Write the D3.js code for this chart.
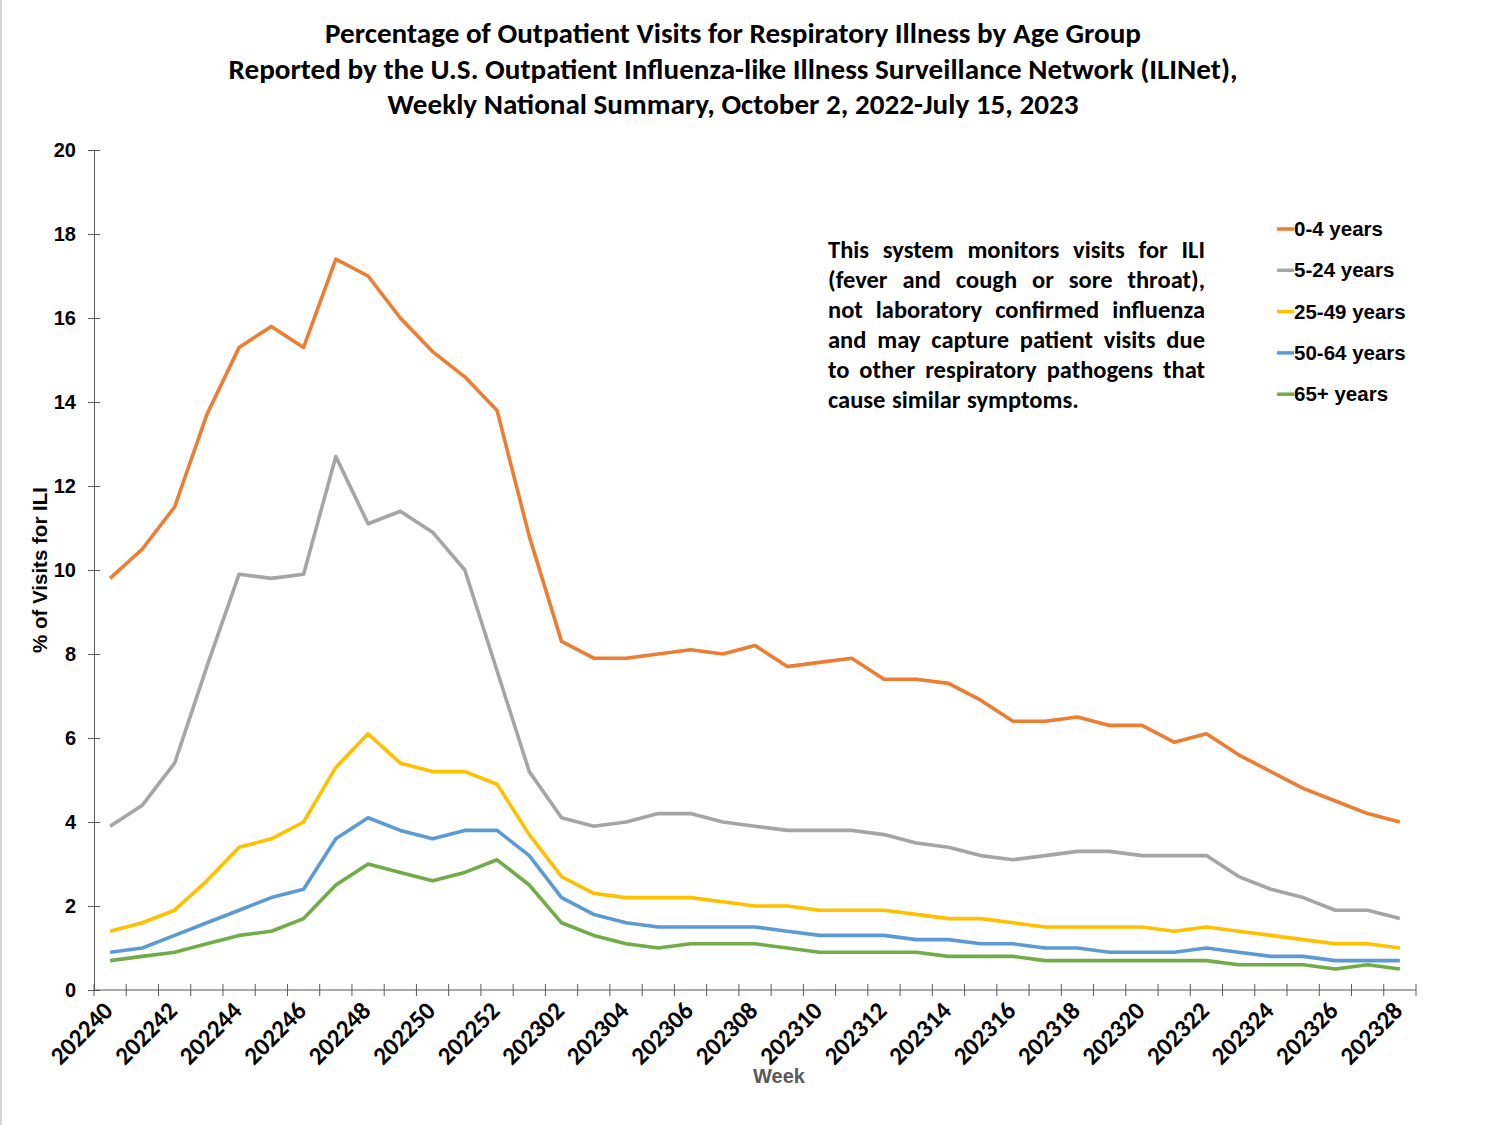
<!DOCTYPE html>
<html>
<head>
<meta charset="utf-8">
<script src="https://cdn.jsdelivr.net/npm/d3@7"></script>
<style>
  html, body { margin: 0; padding: 0; background: #fff; }
  svg { display: block; }
</style>
</head>
<body>
<div id="chart"></div>
<script>
// ILINet weekly % of visits for ILI, by age group, 2022-23 season.

const weeks = [
    "202240", "202241", "202242", "202243", "202244", "202245", "202246",
    "202247", "202248", "202249", "202250", "202251", "202252",
    "202301", "202302", "202303", "202304", "202305", "202306", "202307",
    "202308", "202309", "202310", "202311", "202312", "202313", "202314",
    "202315", "202316", "202317", "202318", "202319", "202320", "202321",
    "202322", "202323", "202324", "202325", "202326", "202327", "202328"
];

const ageGroups = ["0-4 years", "5-24 years", "25-49 years", "50-64 years", "65+ years"];

const age0to4 = [
    9.8, 10.5, 11.5, 13.7, 15.3, 15.8, 15.3, 17.4, 17.0, 16.0, 15.2, 14.6, 13.8,
    10.8, 8.3, 7.9, 7.9, 8.0, 8.1, 8.0, 8.2, 7.7, 7.8, 7.9, 7.4, 7.4, 7.3,
    6.9, 6.4, 6.4, 6.5, 6.3, 6.3, 5.9, 6.1, 5.6, 5.2, 4.8, 4.5, 4.2, 4.0
];
const age5to24 = [
    3.9, 4.4, 5.4, 7.7, 9.9, 9.8, 9.9, 12.7, 11.1, 11.4, 10.9, 10.0, 7.6,
    5.2, 4.1, 3.9, 4.0, 4.2, 4.2, 4.0, 3.9, 3.8, 3.8, 3.8, 3.7, 3.5, 3.4,
    3.2, 3.1, 3.2, 3.3, 3.3, 3.2, 3.2, 3.2, 2.7, 2.4, 2.2, 1.9, 1.9, 1.7
];
const age25to49 = [
    1.4, 1.6, 1.9, 2.6, 3.4, 3.6, 4.0, 5.3, 6.1, 5.4, 5.2, 5.2, 4.9,
    3.7, 2.7, 2.3, 2.2, 2.2, 2.2, 2.1, 2.0, 2.0, 1.9, 1.9, 1.9, 1.8, 1.7,
    1.7, 1.6, 1.5, 1.5, 1.5, 1.5, 1.4, 1.5, 1.4, 1.3, 1.2, 1.1, 1.1, 1.0
];
const age50to64 = [
    0.9, 1.0, 1.3, 1.6, 1.9, 2.2, 2.4, 3.6, 4.1, 3.8, 3.6, 3.8, 3.8,
    3.2, 2.2, 1.8, 1.6, 1.5, 1.5, 1.5, 1.5, 1.4, 1.3, 1.3, 1.3, 1.2, 1.2,
    1.1, 1.1, 1.0, 1.0, 0.9, 0.9, 0.9, 1.0, 0.9, 0.8, 0.8, 0.7, 0.7, 0.7
];
const age65plus = [
    0.7, 0.8, 0.9, 1.1, 1.3, 1.4, 1.7, 2.5, 3.0, 2.8, 2.6, 2.8, 3.1,
    2.5, 1.6, 1.3, 1.1, 1.0, 1.1, 1.1, 1.1, 1.0, 0.9, 0.9, 0.9, 0.9, 0.8,
    0.8, 0.8, 0.7, 0.7, 0.7, 0.7, 0.7, 0.7, 0.6, 0.6, 0.6, 0.5, 0.6, 0.5
];

const seriesValues = [age0to4, age5to24, age25to49, age50to64, age65plus];
const seriesColors = ["#ED7D31", "#A5A5A5", "#FFC000", "#5B9BD5", "#70AD47"];
const yTicks = [0, 2, 4, 6, 8, 10, 12, 14, 16, 18, 20];

const titleLines = [
    "Percentage of Outpatient Visits for Respiratory Illness by Age Group",
    "Reported by the U.S. Outpatient Influenza-like Illness Surveillance Network (ILINet),",
    "Weekly National Summary, October 2, 2022-July 15, 2023"
];
const noteLines = [
    "This system monitors visits for ILI",
    "(fever and cough or sore throat),",
    "not laboratory confirmed influenza",
    "and may capture patient visits due",
    "to other respiratory pathogens that",
    "cause similar symptoms."
];

const W = 1500, H = 1125;
const plot = { left: 94, right: 1416, top: 150, bottom: 990 };
const CAL = "Carlito, Lato, 'Open Sans', sans-serif";
const ARIAL = "'Liberation Sans', Arial, sans-serif";
const AXIS = "#595959";

const svg = d3.select("#chart").append("svg")
    .attr("width", W).attr("height", H)
    .attr("viewBox", `0 0 ${W} ${H}`);

svg.append("rect").attr("width", W).attr("height", H).attr("fill", "#fff");
svg.append("line")
    .attr("x1", 1).attr("x2", 1).attr("y1", 0).attr("y2", H)
    .attr("stroke", "#d3dad3").attr("stroke-width", 2);

// scales — band scale so points sit mid-band and ticks fall on band edges
const x = d3.scaleBand().domain(weeks).range([plot.left, plot.right]);
const y = d3.scaleLinear().domain([0, 20]).range([plot.bottom, plot.top]);
const cx = d => x(d) + x.bandwidth() / 2;

// title — widths taken from the reference so the lines wrap the same way
const titleWidths = [816, 1009, 691];
svg.append("g").selectAll("text").data(titleLines).join("text")
    .attr("x", 733).attr("y", (d, i) => 43 + i * 35.5)
    .attr("text-anchor", "middle")
    .attr("textLength", (d, i) => titleWidths[i])
    .attr("lengthAdjust", "spacingAndGlyphs")
    .style("font-family", CAL).style("font-weight", "bold")
    .style("font-size", "28.5px").style("fill", "#000")
    .text(d => d);

// y axis
const yAxis = svg.append("g")
    .attr("transform", `translate(${plot.left},0)`)
    .call(d3.axisLeft(y).tickValues(yTicks).tickSizeInner(6).tickSizeOuter(0).tickPadding(12));
yAxis.select(".domain").attr("stroke", AXIS);
yAxis.selectAll(".tick line").attr("stroke", AXIS).attr("x2", 6).attr("x1", -6);
yAxis.selectAll(".tick text")
    .style("font-family", ARIAL).style("font-weight", "bold")
    .style("font-size", "20px").style("fill", "#000");

// x axis: ticks on band boundaries, labels on every other week
const xg = svg.append("g").attr("transform", `translate(0,${plot.bottom})`);
xg.append("line")
    .attr("x1", plot.left).attr("x2", plot.right)
    .attr("stroke", AXIS).attr("stroke-width", 1.2);
const edges = weeks.map(d => x(d)).concat([plot.right]);
xg.selectAll("line.tk").data(edges).join("line")
    .attr("class", "tk")
    .attr("x1", d => d).attr("x2", d => d)
    .attr("y1", -6).attr("y2", 6)
    .attr("stroke", AXIS);
xg.selectAll("text").data(weeks.filter((d, i) => i % 2 === 0)).join("text")
    .attr("transform", d => `translate(${cx(d) - 2},${16}) rotate(-45)`)
    .attr("text-anchor", "end")
    .attr("dy", "0.35em")
    .style("font-family", CAL).style("font-weight", "bold")
    .style("font-size", "25px").style("fill", "#000")
    .text(d => d);

// axis titles
svg.append("text")
    .attr("transform", `translate(47,570) rotate(-90)`)
    .attr("text-anchor", "middle")
    .style("font-family", ARIAL).style("font-weight", "bold")
    .style("font-size", "20.5px").style("fill", "#000")
    .text("% of Visits for ILI");
svg.append("text")
    .attr("x", 779).attr("y", 1083)
    .attr("text-anchor", "middle")
    .style("font-family", ARIAL).style("font-weight", "bold")
    .style("font-size", "20px").style("fill", AXIS)
    .text("Week");

// series lines
const line = d3.line().x((d, i) => cx(weeks[i])).y(d => y(d));
svg.append("g").selectAll("path").data(seriesValues).join("path")
    .attr("d", d => line(d))
    .attr("fill", "none")
    .attr("stroke", (d, i) => seriesColors[i])
    .attr("stroke-width", 3.6)
    .attr("stroke-linejoin", "round");

// legend
const leg = svg.append("g").selectAll("g").data(ageGroups).join("g")
    .attr("transform", (d, i) => `translate(1277,${229 + i * 41.3})`);
leg.append("line")
    .attr("x1", 0).attr("x2", 17)
    .attr("stroke", (d, i) => seriesColors[i]).attr("stroke-width", 3.5);
leg.append("text")
    .attr("x", 17).attr("dy", "0.35em")
    .style("font-family", ARIAL).style("font-weight", "bold")
    .style("font-size", "20.5px").style("fill", "#000")
    .text(d => d);

// note: justified block, last line left aligned
const note = { left: 828, right: 1205, top: 258, lh: 30 };
noteLines.forEach((ln, li) => {
    const words = ln.split(" ");
    const g = svg.append("g");
    const nodes = words.map(w => g.append("text")
        .attr("y", note.top + li * note.lh)
        .style("font-family", CAL).style("font-weight", "bold")
        .style("font-size", "24.5px").style("fill", "#000")
        .text(w));
    const widths = nodes.map(n => n.node().getComputedTextLength());
    const total = d3.sum(widths);
    const last = li === noteLines.length - 1;
    const gap = last ? 6.5 : (note.right - note.left - total) / (words.length - 1);
    let pos = note.left;
    nodes.forEach((n, i) => { n.attr("x", pos); pos += widths[i] + gap; });
});
</script>
</body>
</html>
